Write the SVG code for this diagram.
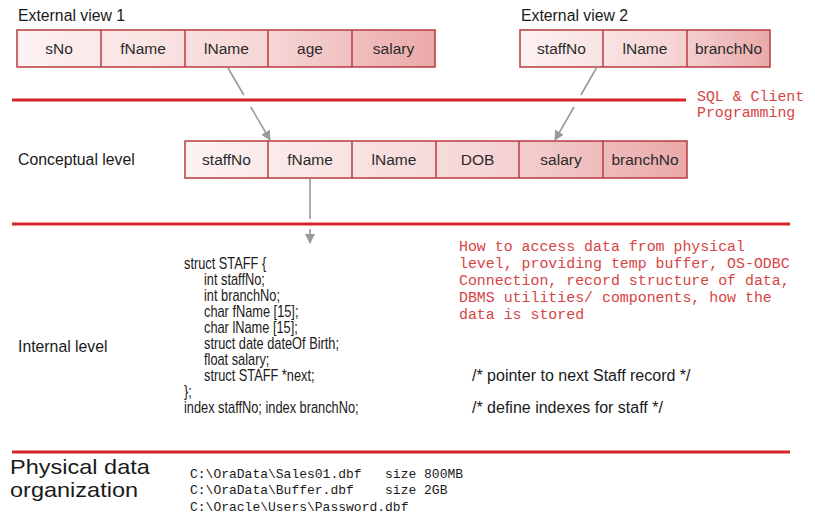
<svg xmlns="http://www.w3.org/2000/svg" width="815" height="515" viewBox="0 0 815 515">
  <defs>
    <linearGradient id="rowFill" x1="0" y1="0" x2="1" y2="0">
      <stop offset="0" stop-color="#fdf2f2"/>
      <stop offset="0.6" stop-color="#f6d6d6"/>
      <stop offset="1" stop-color="#eaa9a9"/>
    </linearGradient>
    <marker id="arrow" viewBox="0 0 10 10" refX="9" refY="5" markerWidth="10" markerHeight="10" markerUnits="userSpaceOnUse" orient="auto">
      <path d="M0,0 L10,5 L0,10 Z" fill="#9a9a9a"/>
    </marker>
    <style>
      .label { font-family: "Liberation Sans", Arial, sans-serif; font-size: 15.8px; fill: #1a1a1a; }
      .cell { font-family: "Liberation Sans", Arial, sans-serif; font-size: 15.5px; fill: #2a2a2a; text-anchor: middle; }
      .row { fill: url(#rowFill); stroke: #b83a40; stroke-width: 1.5; }
      .div { stroke: #b83a40; stroke-width: 1.5; }
      .level { stroke: #d5242b; stroke-width: 3; }
      .conn { stroke: #9a9a9a; stroke-width: 1.6; fill: none; }
      .code { font-family: "Liberation Sans", Arial, sans-serif; font-size: 16px; fill: #1a1a1a; }
      .note { font-family: "Liberation Mono", "Courier New", monospace; font-size: 14.9px; fill: #d64444; }
      .file { font-family: "Liberation Mono", "Courier New", monospace; font-size: 13px; fill: #1a1a1a; }
      .phys { font-family: "Liberation Sans", Arial, sans-serif; font-size: 21px; fill: #1a1a1a; }
    </style>
  </defs>

  <rect width="815" height="515" fill="#ffffff"/>

  <!-- level separators -->
  <g id="separators">
    <line class="level" x1="12" y1="100" x2="686" y2="100"/>
    <line class="level" x1="12" y1="224" x2="790" y2="224"/>
    <line class="level" x1="12" y1="452" x2="790" y2="452"/>
  </g>

  <!-- external view 1 -->
  <g id="external-view-1">
    <text class="label" x="18" y="21">External view 1</text>
    <rect class="row" x="17" y="30" width="418" height="37"/>
    <line class="div" x1="101" y1="30" x2="101" y2="67"/>
    <line class="div" x1="185" y1="30" x2="185" y2="67"/>
    <line class="div" x1="268" y1="30" x2="268" y2="67"/>
    <line class="div" x1="352" y1="30" x2="352" y2="67"/>
    <text class="cell" x="59" y="54">sNo</text>
    <text class="cell" x="143" y="54">fName</text>
    <text class="cell" x="226.5" y="54">lName</text>
    <text class="cell" x="310" y="54">age</text>
    <text class="cell" x="393.5" y="54">salary</text>
  </g>

  <!-- external view 2 -->
  <g id="external-view-2">
    <text class="label" x="521" y="21">External view 2</text>
    <rect class="row" x="520" y="30" width="250" height="37"/>
    <line class="div" x1="603" y1="30" x2="603" y2="67"/>
    <line class="div" x1="687" y1="30" x2="687" y2="67"/>
    <text class="cell" x="561.5" y="54">staffNo</text>
    <text class="cell" x="645" y="54">lName</text>
    <text class="cell" x="728.5" y="54">branchNo</text>
  </g>

  <g id="sql-note">
    <text class="note" x="697" y="101">SQL &amp; Client</text>
    <text class="note" x="697" y="117">Programming</text>
  </g>

  <!-- conceptual level -->
  <g id="conceptual-level">
    <text class="label" x="18" y="165">Conceptual level</text>
    <rect class="row" x="185" y="141" width="502" height="37"/>
    <line class="div" x1="268" y1="141" x2="268" y2="178"/>
    <line class="div" x1="352" y1="141" x2="352" y2="178"/>
    <line class="div" x1="436" y1="141" x2="436" y2="178"/>
    <line class="div" x1="519" y1="141" x2="519" y2="178"/>
    <line class="div" x1="603" y1="141" x2="603" y2="178"/>
    <text class="cell" x="226.5" y="165">staffNo</text>
    <text class="cell" x="310" y="165">fName</text>
    <text class="cell" x="394" y="165">lName</text>
    <text class="cell" x="477.5" y="165">DOB</text>
    <text class="cell" x="561" y="165">salary</text>
    <text class="cell" x="645" y="165">branchNo</text>
  </g>

  <!-- mappings between levels -->
  <g id="connectors">
    <line class="conn" x1="228" y1="68" x2="243.8" y2="95"/>
    <line class="conn" x1="250.8" y1="107" x2="270" y2="140" marker-end="url(#arrow)"/>
    <line class="conn" x1="597" y1="67" x2="580.9" y2="95"/>
    <line class="conn" x1="574" y1="107" x2="555" y2="140" marker-end="url(#arrow)"/>
    <line class="conn" x1="310" y1="179" x2="310" y2="219"/>
    <line class="conn" x1="310" y1="229" x2="310" y2="243" marker-end="url(#arrow)"/>
  </g>

  <!-- internal level -->
  <g id="internal-level">
    <text class="label" x="18" y="352">Internal level</text>
    <g transform="translate(184,0) scale(0.8,1)">
      <text class="code" x="0" y="269">struct STAFF {</text>
      <text class="code" x="25" y="285">int staffNo;</text>
      <text class="code" x="25" y="301">int branchNo;</text>
      <text class="code" x="25" y="317">char fName [15];</text>
      <text class="code" x="25" y="333">char lName [15];</text>
      <text class="code" x="25" y="349">struct date dateOf Birth;</text>
      <text class="code" x="25" y="365">float salary;</text>
      <text class="code" x="25" y="381">struct STAFF *next;</text>
      <text class="code" x="0" y="397">};</text>
      <text class="code" x="0" y="413">index staffNo; index branchNo;</text>
    </g>
    <text class="code" x="472" y="381">/* pointer to next Staff record */</text>
    <text class="code" x="472" y="413">/* define indexes for staff */</text>
  </g>

  <g id="internal-note">
    <text class="note" x="459" y="251">How to access data from physical</text>
    <text class="note" x="459" y="268">level, providing temp buffer, OS-ODBC</text>
    <text class="note" x="459" y="285">Connection, record structure of data,</text>
    <text class="note" x="459" y="302">DBMS utilities/ components, how the</text>
    <text class="note" x="459" y="319">data is stored</text>
  </g>

  <!-- physical level -->
  <g id="physical-level">
    <g transform="translate(10,0) scale(1.12,1)">
      <text class="phys" x="0" y="474">Physical data</text>
      <text class="phys" x="0" y="497">organization</text>
    </g>
    <text class="file" x="190" y="478" xml:space="preserve">C:\OraData\Sales01.dbf   size 800MB</text>
    <text class="file" x="190" y="494" xml:space="preserve">C:\OraData\Buffer.dbf    size 2GB</text>
    <text class="file" x="190" y="511">C:\Oracle\Users\Password.dbf</text>
  </g>
</svg>
